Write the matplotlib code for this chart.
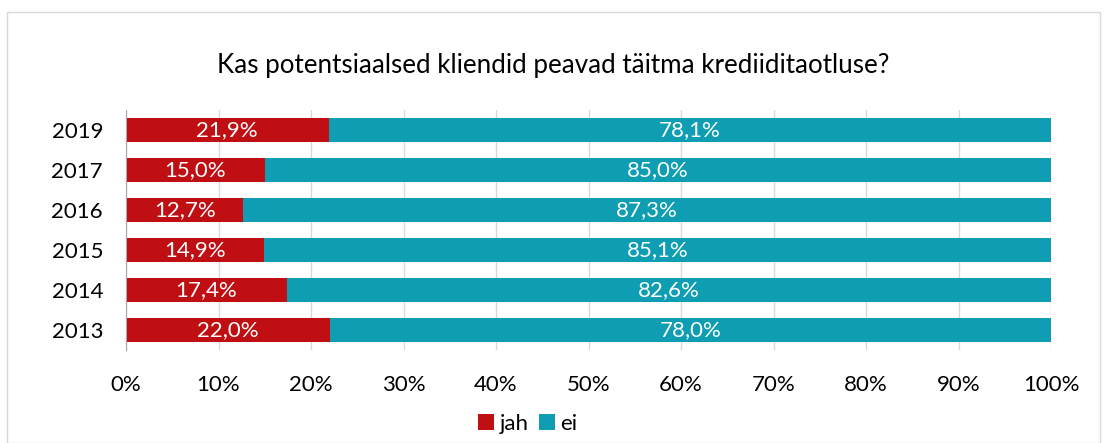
import matplotlib.pyplot as plt
from matplotlib.patches import Rectangle

plt.rcParams['font.family'] = ['Lato', 'DejaVu Sans']

years = ['2019', '2017', '2016', '2015', '2014', '2013']
jah = [21.9, 15.0, 12.7, 14.9, 17.4, 22.0]
ei = [78.1, 85.0, 87.3, 85.1, 82.6, 78.0]
ticks = [0, 10, 20, 30, 40, 50, 60, 70, 80, 90, 100]

red = '#C00F12'
teal = '#0E9DB2'

fig = plt.figure(figsize=(11.07, 4.43), dpi=100)
ax = fig.add_axes([126/1107, 1-350/443, (1051-126)/1107, 240/443])

# border of the chart area
fig.patches.append(Rectangle((7/1107, 0.0), 1093/1107, 1-12/443, transform=fig.transFigure,
                             fill=False, edgecolor='#D9D9D9', linewidth=1))

pos = list(range(len(years)))[::-1]
b1 = ax.barh(pos, jah, height=0.62, color=red, label='jah', zorder=3)
b2 = ax.barh(pos, ei, left=jah, height=0.62, color=teal, label='ei', zorder=3)

for p, j, e in zip(pos, jah, ei):
    ax.text(j/2, p, f'{j:.1f}%'.replace('.', ','), ha='center', va='center',
            color='white', fontsize=16, zorder=4)
    ax.text(j + e/2, p, f'{e:.1f}%'.replace('.', ','), ha='center', va='center',
            color='white', fontsize=16, zorder=4)

ax.set_xlim(0, 100)
ax.set_ylim(-0.5, 5.5)
ax.set_xticks(ticks)
ax.set_xticklabels([f'{t}%' for t in ticks])
ax.set_yticks(pos)
ax.set_yticklabels(years)
ax.tick_params(axis='both', length=0, labelsize=16, colors='black')
ax.tick_params(axis='x', pad=18)
ax.tick_params(axis='y', pad=16.5)
ax.grid(axis='x', color='#D9D9D9', linewidth=1, zorder=0)
for s in ['top', 'right', 'bottom']:
    ax.spines[s].set_visible(False)
ax.spines['left'].set_color('#A6A6A6')
ax.spines['left'].set_zorder(5)

fig.text(0.5, 1-65/443, 'Kas potentsiaalsed kliendid peavad täitma krediiditaotluse?',
         ha='center', va='center', fontsize=18.7)

fig.legend(handles=[b1, b2], loc='center', bbox_to_anchor=(528/1107, 1-424/443), ncol=2,
           frameon=False, fontsize=16, handlelength=0.7, handleheight=0.7,
           handletextpad=0.25, columnspacing=0.5)

fig.savefig('out.png', dpi=100)
